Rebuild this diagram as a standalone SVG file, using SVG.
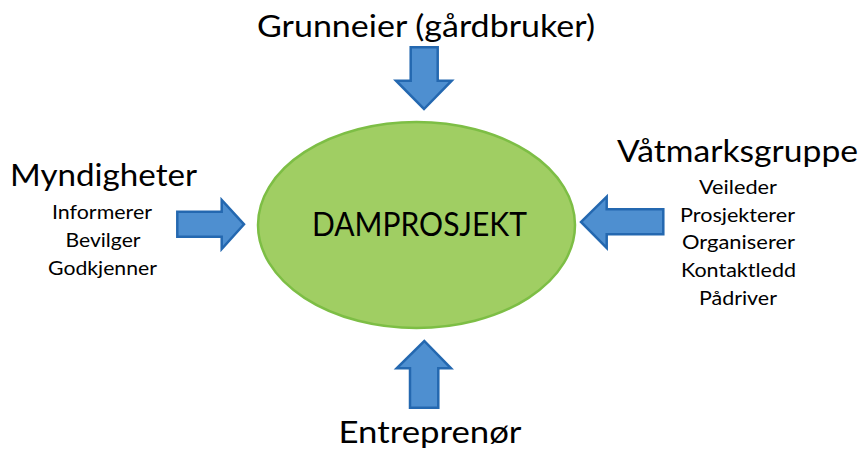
<svg xmlns="http://www.w3.org/2000/svg" width="861" height="453" viewBox="0 0 861 453">
<style>
.arrow{fill:#4E8FD0;stroke:#2468B0;stroke-width:2.5;stroke-linejoin:miter}
.title{font-family:Lato,"Open Sans","Liberation Sans",sans-serif;font-size:30px;fill:#000;text-anchor:middle}
.sub{font-family:Lato,"Open Sans","Liberation Sans",sans-serif;font-size:19.5px;fill:#000;text-anchor:middle}
.center{font-family:Lato,"Open Sans","Liberation Sans",sans-serif;font-size:32px;fill:#000;text-anchor:middle}
</style>
<rect width="861" height="453" fill="#fff"/>
<g id="damprosjekt">
<ellipse cx="416.5" cy="225" rx="158.5" ry="103" fill="#A0CE63" stroke="#7DBE45" stroke-width="2.5"/>
<text class="center" x="419.5" y="236" textLength="215" lengthAdjust="spacingAndGlyphs">DAMPROSJEKT</text>
</g>
<g id="grunneier">
<text class="title" x="426" y="37" textLength="338" lengthAdjust="spacingAndGlyphs">Grunneier (gårdbruker)</text>
</g>
<g id="myndigheter">
<text class="title" x="103.5" y="186" textLength="187" lengthAdjust="spacingAndGlyphs">Myndigheter</text>
<text class="sub" x="102" y="219" textLength="100" lengthAdjust="spacingAndGlyphs">Informerer</text>
<text class="sub" x="103" y="247" textLength="75" lengthAdjust="spacingAndGlyphs">Bevilger</text>
<text class="sub" x="102.5" y="275" textLength="109" lengthAdjust="spacingAndGlyphs">Godkjenner</text>
</g>
<g id="vatmarksgruppe">
<text class="title" x="737.5" y="162" textLength="241" lengthAdjust="spacingAndGlyphs">Våtmarksgruppe</text>
<text class="sub" x="738" y="194" textLength="78" lengthAdjust="spacingAndGlyphs">Veileder</text>
<text class="sub" x="737.5" y="221.5" textLength="115" lengthAdjust="spacingAndGlyphs">Prosjekterer</text>
<text class="sub" x="738.5" y="249" textLength="113" lengthAdjust="spacingAndGlyphs">Organiserer</text>
<text class="sub" x="738.5" y="277" textLength="115" lengthAdjust="spacingAndGlyphs">Kontaktledd</text>
<text class="sub" x="738" y="305" textLength="78" lengthAdjust="spacingAndGlyphs">Pådriver</text>
</g>
<g id="entreprenor">
<text class="title" x="430" y="443" textLength="183" lengthAdjust="spacingAndGlyphs">Entreprenør</text>
</g>
<g id="connectors">
<polygon class="arrow" points="410.7,47.3 437.7,47.3 437.7,80.7 451.7,80.7 424,109 396,80.7 410.7,80.7"/>
<polygon class="arrow" points="177.3,211.7 221.7,211.7 221.7,200 244,224.3 221.7,249 221.7,236.7 177.3,236.7"/>
<polygon class="arrow" points="663.3,209.3 606.7,209.3 606.7,196.7 581,222 606.7,248 606.7,234.3 663.3,234.3"/>
<polygon class="arrow" points="410,407.7 438.3,407.7 438.3,368.3 451,368.3 424.3,341 396.7,368.3 410,368.3"/>
</g>
</svg>
